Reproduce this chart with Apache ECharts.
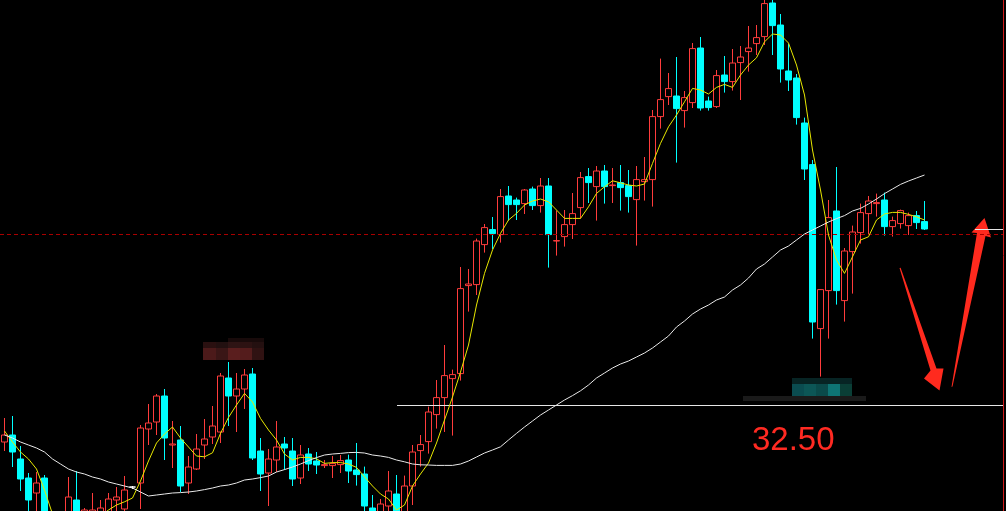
<!DOCTYPE html>
<html>
<head>
<meta charset="utf-8">
<script src="https://cdn.jsdelivr.net/npm/echarts@6/dist/echarts.min.js"></script>
<style>
html,body{margin:0;padding:0;background:#000;}
#c{width:1006px;height:511px;}
</style>
</head>
<body>
<div id="c"></div>
<script>
// ---- data ----
const categories = Array.from({length: 125}, (_, i) => 'K' + (i + 1));

const open = [30.65,31.00,29.80,28.85,28.10,28.85,26.50,25.75,26.50,27.75,
26.65,26.75,26.85,27.00,27.75,27.30,28.40,28.60,31.30,31.65,
32.95,30.50,30.75,28.60,29.30,30.50,30.90,31.15,33.85,32.95,
33.30,34.05,30.20,29.10,29.75,30.55,30.20,28.85,30.05,29.70,
29.47,29.47,29.52,29.75,29.25,29.05,27.35,27.00,27.45,28.05,
26.85,28.45,30.22,30.67,32.02,32.87,33.82,34.07,38.47,38.52,
40.52,41.27,41.02,42.95,42.75,42.57,43.30,42.47,43.45,40.70,
40.92,41.52,42.37,43.92,43.42,44.20,43.47,43.62,43.47,42.77,
43.67,43.77,46.92,47.92,47.95,47.22,47.62,50.35,47.70,47.42,
49.00,48.67,49.62,50.17,50.57,50.92,52.60,51.50,49.20,48.85,
46.60,44.52,36.32,38.22,42.20,37.72,40.17,41.12,42.07,42.57,
42.75,41.42,41.57,41.47,41.97,41.67];

const close = [31.00,30.15,28.80,27.75,28.60,26.50,25.75,26.15,27.90,26.75,
27.25,27.25,27.35,27.80,27.90,28.25,28.40,31.35,31.60,32.95,
30.85,30.55,28.45,29.40,30.30,30.80,31.45,33.95,32.95,33.30,
34.00,29.85,29.05,29.80,30.40,30.35,28.80,30.00,29.55,29.50,
29.52,29.57,29.72,29.20,29.02,27.45,26.85,27.55,28.20,27.00,
28.45,30.15,30.52,32.15,32.87,33.97,34.02,38.32,38.55,40.70,
41.37,41.07,42.92,42.52,42.52,43.25,42.47,43.45,41.02,40.72,
41.52,42.07,43.87,43.62,44.20,43.42,43.50,43.37,42.92,43.77,
43.77,46.92,47.77,48.32,47.32,47.87,50.32,47.35,47.37,48.97,
48.67,49.60,49.90,50.35,50.87,52.57,51.47,49.30,48.75,46.87,
44.30,36.65,38.27,41.87,38.22,40.20,41.15,42.12,42.70,42.62,
41.42,41.72,42.22,41.97,41.62,41.30];

const low = [30.20,29.40,28.20,27.00,26.95,26.25,25.35,25.50,26.25,26.50,
26.35,26.50,26.65,26.75,27.05,27.05,28.30,27.30,30.50,31.00,
29.75,29.35,28.15,28.05,29.25,29.80,30.55,30.60,31.45,31.15,
32.30,29.75,28.20,27.45,29.15,29.25,28.45,28.55,29.20,29.05,
29.35,28.85,29.10,28.60,28.47,27.17,26.65,26.75,26.95,26.75,
26.70,27.50,29.42,30.07,31.32,31.15,30.97,33.72,37.17,38.00,
40.12,40.30,40.62,41.72,41.75,42.05,42.25,42.12,39.37,39.97,
40.42,40.80,41.82,42.60,41.72,42.57,42.60,42.22,42.12,40.47,
42.72,42.42,46.32,47.50,44.62,46.37,47.35,47.22,47.22,47.35,
48.12,48.22,47.75,49.17,50.00,50.50,50.00,48.62,48.20,46.52,
43.75,35.82,33.92,35.82,37.52,36.67,38.07,40.57,41.00,41.92,
40.97,40.92,41.32,41.00,41.30,41.25];

const high = [31.85,31.95,30.45,29.10,29.15,29.00,26.75,26.50,28.90,29.20,
27.35,28.10,27.75,28.10,28.40,28.95,28.45,31.50,32.55,33.05,
33.30,31.70,31.45,29.95,31.05,31.80,32.45,34.10,34.65,34.10,
34.30,34.35,30.85,30.30,31.70,30.90,30.85,30.50,30.35,30.15,
29.75,29.95,30.00,30.02,30.60,29.42,28.00,27.80,29.20,29.00,
28.97,30.50,31.00,32.42,33.75,35.50,34.27,39.40,39.30,40.82,
41.55,41.90,43.30,43.45,42.87,43.30,43.42,43.85,43.85,42.22,
42.25,43.10,44.15,44.35,44.45,44.50,44.35,44.50,44.25,44.45,
44.90,47.25,49.82,49.10,49.90,48.20,50.60,50.90,47.92,49.25,
49.95,50.30,50.45,51.45,51.50,52.90,52.85,52.05,50.55,49.05,
46.87,44.75,38.30,42.75,44.40,40.35,41.47,42.57,42.95,43.07,
43.12,41.92,42.27,42.12,42.20,42.70];

// short (yellow) moving average
const maFast = [31.20,30.65,30.15,29.80,29.30,28.25,27.05,26.45,26.15,26.15,
26.35,26.65,26.95,27.25,27.50,27.66,27.85,28.70,29.70,30.60,
31.05,31.40,30.85,30.40,29.95,29.91,30.11,31.08,31.88,32.50,
33.08,32.65,31.83,31.25,30.75,30.05,29.75,29.88,29.88,29.81,
29.58,29.62,29.62,29.55,29.38,28.91,28.45,28.05,27.80,27.25,
27.50,28.45,29.05,29.60,30.60,31.75,32.90,34.15,35.50,37.50,
39.08,40.25,41.08,41.75,42.08,42.50,42.70,42.80,42.66,42.25,
41.83,41.83,41.83,42.41,43.08,43.41,43.71,43.61,43.50,43.45,
43.55,44.58,45.58,46.41,47.00,47.66,48.33,48.25,48.05,48.38,
48.53,48.38,49.00,49.50,49.86,50.66,51.05,51.00,50.60,49.50,
48.00,45.25,43.25,41.00,39.75,39.08,39.91,40.75,40.91,41.75,
42.05,42.13,42.13,42.03,41.91,41.75];

// long (white) moving average
const maSlow = [31.00,30.85,30.65,30.50,30.35,30.15,29.80,29.55,29.30,29.15,
29.05,28.90,28.80,28.65,28.55,28.45,28.35,28.15,27.95,28.00,
28.05,28.10,28.12,28.15,28.20,28.27,28.35,28.45,28.50,28.60,
28.75,28.80,28.87,28.95,29.15,29.27,29.40,29.55,29.72,29.87,
30.00,30.05,30.08,30.12,30.13,30.10,30.00,29.95,29.88,29.75,
29.66,29.55,29.51,29.50,29.48,29.48,29.48,29.55,29.70,29.90,
30.10,30.25,30.41,30.75,31.08,31.40,31.70,32.00,32.25,32.50,
32.75,32.97,33.21,33.50,33.85,34.10,34.35,34.55,34.70,34.90,
35.10,35.35,35.65,35.95,36.40,36.70,37.05,37.30,37.50,37.75,
37.90,38.25,38.50,38.85,39.30,39.55,39.90,40.25,40.45,40.75,
41.05,41.25,41.45,41.65,41.82,41.97,42.20,42.33,42.55,42.80,
43.07,43.30,43.53,43.70,43.85,44.00];

const supportLevel = 32.50;
const supportLabel = '32.50';
const dashedLevel = 41.03;
const lastPrice = close[close.length - 1];

// ---- chart ----
const chart = echarts.init(document.getElementById('c'), null, {renderer: 'canvas'});
const candleData = open.map((o, i) => [o, close[i], low[i], high[i]]);

const RED = '#ff3c3c', CYAN = '#00ffff';

const option = {
  backgroundColor: '#000',
  animation: false,
  grid: {left: 0.5, right: 5.5, top: 0, bottom: 0},
  xAxis: {type: 'category', data: categories, show: false, boundaryGap: true},
  yAxis: [
    {type: 'value', min: 27.2, max: 52.75, show: false, splitLine: {show: false}},
    {type: 'value', min: 27.2, max: 52.75, position: 'right', offset: 3,
     axisLine: {show: true, lineStyle: {color: '#d01818', width: 1}},
     axisTick: {show: false}, axisLabel: {show: false}, splitLine: {show: false}}
  ],
  series: [
    {
      type: 'candlestick',
      data: candleData,
      barWidth: 6,
      itemStyle: {
        color: '#000', color0: CYAN,
        borderColor: RED, borderColor0: CYAN,
        borderColorDoji: '#ffffff', borderWidth: 1
      },
      markLine: {
        silent: true,
        symbol: ['none', 'none'],
        label: {show: false},
        data: [
          [{x: 0, yAxis: dashedLevel, lineStyle: {color: '#a80000', type: [4, 3], width: 1}},
           {x: 1003, yAxis: dashedLevel}],
          [{x: 397, yAxis: supportLevel, lineStyle: {color: '#e6e6e6', type: 'solid', width: 1}},
           {x: 1003, yAxis: supportLevel}],
          [{x: 975, yAxis: lastPrice, lineStyle: {color: '#e6e6e6', type: 'solid', width: 1}},
           {x: 1003, yAxis: lastPrice}]
        ]
      }
    },
    {
      type: 'line', data: maFast, symbol: 'none', smooth: false,
      lineStyle: {color: '#e8e800', width: 1}, z: 5
    },
    {
      type: 'line', data: maSlow, symbol: 'none', smooth: false,
      lineStyle: {color: '#e8e8e8', width: 1}, z: 5
    }
  ],
  graphic: [
    // blurred red label (mosaic)
    {type: 'rect', shape: {x: 228, y: 338, width: 36, height: 4}, style: {fill: '#180a0a'}, silent: true},
    {type: 'rect', shape: {x: 203, y: 342, width: 13, height: 6}, style: {fill: '#2a1010'}, silent: true},
    {type: 'rect', shape: {x: 216, y: 342, width: 12, height: 6}, style: {fill: '#221010'}, silent: true},
    {type: 'rect', shape: {x: 228, y: 342, width: 12, height: 6}, style: {fill: '#2e1414'}, silent: true},
    {type: 'rect', shape: {x: 240, y: 342, width: 12, height: 6}, style: {fill: '#2c1212'}, silent: true},
    {type: 'rect', shape: {x: 252, y: 342, width: 12, height: 6}, style: {fill: '#241010'}, silent: true},
    {type: 'rect', shape: {x: 203, y: 348, width: 13, height: 12}, style: {fill: '#4c1a1a'}, silent: true},
    {type: 'rect', shape: {x: 216, y: 348, width: 12, height: 12}, style: {fill: '#3a1616'}, silent: true},
    {type: 'rect', shape: {x: 228, y: 348, width: 12, height: 12}, style: {fill: '#5a1e1e'}, silent: true},
    {type: 'rect', shape: {x: 240, y: 348, width: 12, height: 12}, style: {fill: '#541c1c'}, silent: true},
    {type: 'rect', shape: {x: 252, y: 348, width: 12, height: 12}, style: {fill: '#301212'}, silent: true},
    // blurred cyan label (mosaic)
    {type: 'rect', shape: {x: 743, y: 396, width: 123, height: 5}, style: {fill: '#1a1a1a'}, silent: true},
    {type: 'rect', shape: {x: 792, y: 378, width: 60, height: 6}, style: {fill: '#072424'}, silent: true},
    {type: 'rect', shape: {x: 792, y: 384, width: 12, height: 12}, style: {fill: '#0a4c50'}, silent: true},
    {type: 'rect', shape: {x: 804, y: 384, width: 12, height: 12}, style: {fill: '#0c5656'}, silent: true},
    {type: 'rect', shape: {x: 816, y: 384, width: 12, height: 12}, style: {fill: '#0a4a4a'}, silent: true},
    {type: 'rect', shape: {x: 828, y: 384, width: 12, height: 12}, style: {fill: '#0e7474'}, silent: true},
    {type: 'rect', shape: {x: 840, y: 384, width: 12, height: 12}, style: {fill: '#0a3e36'}, silent: true},
    // support price text
    {type: 'text', x: 752, y: 441, silent: true,
     style: {text: supportLabel, fill: '#ff2a22', font: '33px "Liberation Sans", Arial, sans-serif',
             textAlign: 'left', textVerticalAlign: 'middle', verticalAlign: 'middle'}},
    // down arrow
    {type: 'polygon', silent: true,
     shape: {points: [[899.5, 268], [930.5, 370.5], [924, 378.5], [939.5, 390.5], [943.5, 368.5], [936.5, 368.5], [900.6, 267.8]]},
     style: {fill: '#ff2a1e'}},
    // up arrow
    {type: 'polygon', silent: true,
     shape: {points: [[951.5, 387], [977, 233], [971.5, 232.5], [984.5, 218], [991, 237.5], [985.5, 236], [952.5, 386.5]]},
     style: {fill: '#ff2a1e'}}
  ]
};
chart.setOption(option);
</script>
</body>
</html>
